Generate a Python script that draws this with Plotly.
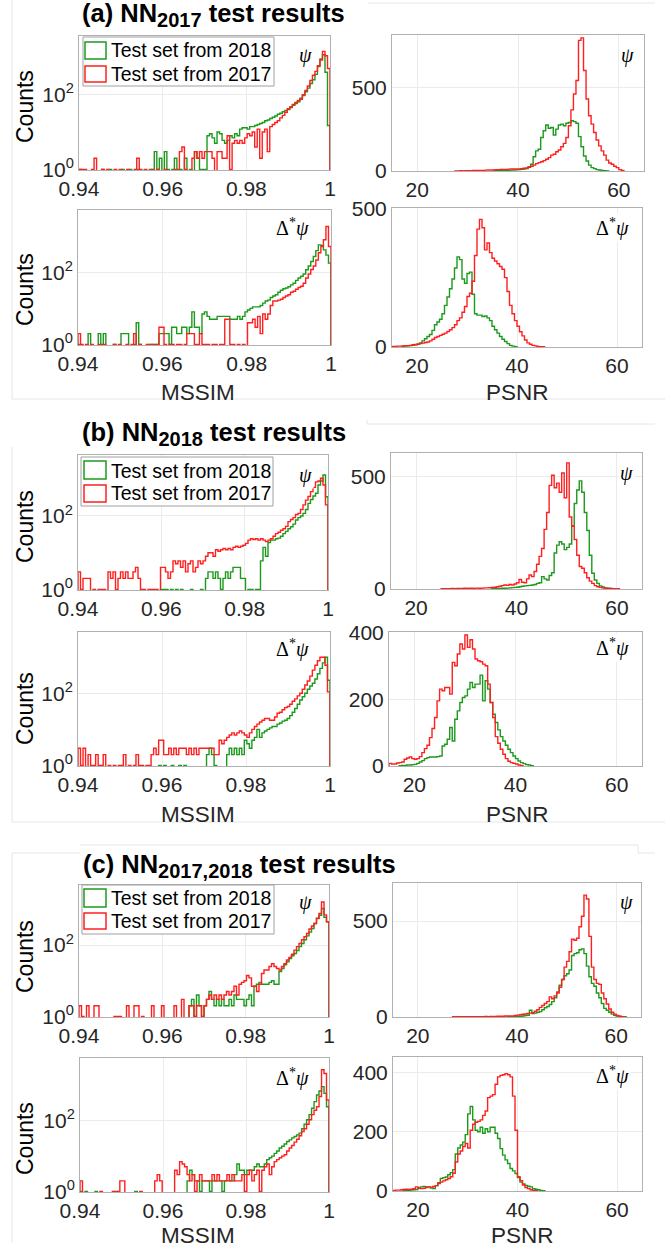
import numpy as np
import plotly.graph_objects as go

W, H = 665, 1247

MSSIM_START = 0.94
MSSIM_BIN = 0.0006
PSNR_BIN = 0.5

GREEN = "#1c9a1c"
RED = "#ff1f1f"
FONT = "Liberation Sans, Arial, Helvetica, sans-serif"

# ---------------- (a) NN2017 ----------------
a_psi_mssim_2018 = [1,0,0,0,0,0,0,0,0,1, 0,0,1,0,0,0,0,1,0,0, 1,0,0,1,0,0,0,0,1,0,
                    3,1,2,0,3,1,0,1,2,1, 1,0,2,0,1,0,3,2,1,1, 1,8,9,7,5,10,9,6,5,6,
                    8,7,9,8,12,13,13,12,14,14, 15,16,17,18,20,21,23,25,27,30,
                    32,35,38,40,45,52,58,65,80,95, 120,150,200,250,350,570,900,1170,400,15]
a_psi_mssim_2017 = [1,1,1,0,0,1,2,0,0,1, 0,1,0,0,1,0,1,0,0,1, 0,0,1,2,1,0,1,0,0,1,
                    0,1,0,0,1,0,0,0,1,0, 3,4,1,0,0,2,3,2,3,2, 3,3,3,2,0,3,3,2,2,8,
                    1,5,6,5,6,5,7,9,8,10, 4,12,2,10,12,3,14,16,18,20,
                    24,28,34,42,48,55,62,70,75,100, 130,170,240,330,420,600,850,1440,1100,500]
a_dpsi_mssim_2018 = [1,0,0,0,2,0,0,0,2,1, 2,0,0,0,1,0,0,2,2,2, 0,0,1,4,1,0,0,0,1,1,
                     1,1,2,2,2,2,1,3,3,2, 2,3,3,2,3,8,3,3,2,7, 8,6,5,5,5,6,6,6,6,6,
                     5,5,5,6,5,6,8,9,10,11, 11,11,12,14,16,17,20,22,24,28,
                     32,35,37,40,45,50,60,70,78,90, 118,150,200,276,400,580,560,420,300,180]
a_dpsi_mssim_2017 = [2,1,0,1,0,1,0,0,1,0, 1,0,0,0,1,0,1,0,0,1, 0,1,2,0,1,0,0,1,0,1,
                     0,1,3,3,1,0,1,1,0,1, 1,0,1,2,2,2,1,1,2,1, 1,1,0,1,1,0,1,1,5,5,
                     1,1,0,1,0,1,0,4,4,5, 3,6,2,7,5,7,12,16,16,17,
                     18,20,22,24,28,30,34,38,41,50, 70,90,120,150,220,350,520,800,1870,520]
a_psi_psnr_2018_start = 35.0
a_psi_psnr_2018 = [1,2,2,3,3,3,4,5,6,7, 8,10,12,15,25,40,85,120,130,200,
                   240,275,255,260,215,250,275,280,270,285, 290,300,295,285,205,145,90,60,35,20,
                   14,8,6,4,2,1]
a_psi_psnr_2017_start = 27.5
a_psi_psnr_2017 = [1,1,2,1,2,2,2,3,3,4, 4,4,5,6,6,7,8,8,9,10, 10,11,12,12,12,
                   12,14,16,18,22,28,35,44,50,55, 62,70,80,95,100,115,125,145,165,200,
                   270,365,460,540,780,795,600,430,330,280, 230,185,150,120,95,65,48,40,28,20,
                   8,3]
a_dpsi_psnr_2018_start = 17.0
a_dpsi_psnr_2018 = [2,3,4,5,6,8,10,15,22,30, 38,45,60,80,90,100,120,150,180,210,
                    245,285,325,315,245,230,265,270,190,120, 115,115,110,112,105,95,75,62,50,38,
                    28,20,12,6,3,1]
a_dpsi_psnr_2017_start = 15.0
a_dpsi_psnr_2017 = [2,2,3,3,4,5,5,6,8,9, 10,12,14,16,18,22,28,34,38,42,
                    46,50,56,62,70,80,95,105,125,146, 182,194,237,330,425,460,430,350,375,340,
                    320,310,300,290,280,250,200,150,120,95, 75,55,40,25,15,10,6,4,2,1, 1]

# ---------------- (b) NN2018 ----------------
b_psi_mssim_2018 = [0,0,0,0,0,0,0,0,0,0, 0,0,0,0,0,0,0,0,0,0, 0,0,0,0,0,0,0,0,0,0,
                    0,0,0,1,1,1,0,1,0,1, 0,1,0,0,0,1,0,0,0,1, 0,2,3,3,2,3,2,1,2,3,
                    2,3,4,4,4,2,2,0,1,1, 0,1,1,6,14,8,19,22,22,24,
                    25,28,33,38,45,51,60,78,90,100, 118,150,220,280,350,415,700,900,1300,335]
b_psi_mssim_2017 = [3,1,2,2,2,0,1,0,1,1, 1,0,3,2,3,1,2,3,2,3, 2,2,3,4,2,1,1,0,1,1,
                    1,1,0,4,4,3,2,3,6,5, 6,4,6,3,5,6,3,4,6,5, 6,8,10,10,8,12,11,12,13,12,
                    13,12,14,15,14,15,16,18,22,24, 23,24,22,24,22,20,22,24,28,33,
                    36,41,45,52,70,80,90,110,118,150, 200,270,340,460,600,850,900,1060,700,200]
b_dpsi_mssim_2018 = [0,0,0,0,0,0,0,0,0,0, 0,0,0,0,0,0,0,0,0,0, 0,0,0,0,0,0,0,0,0,0,
                     0,0,1,0,1,0,0,1,0,0, 1,0,1,0,0,0,0,0,0,0, 0,2,3,2,1,0,0,0,0,2,
                     3,2,3,2,3,2,5,4,3,5, 6,10,6,8,9,10,11,12,12,14,
                     15,17,18,20,24,30,38,50,65,80, 100,130,160,190,250,350,490,700,1000,230]
b_dpsi_mssim_2017 = [3,1,3,0,2,1,1,2,1,1, 2,0,1,0,1,0,1,1,2,0, 1,0,1,2,1,1,0,1,1,2,
                     3,2,5,5,2,2,3,2,3,2, 3,3,3,2,3,2,3,2,3,3, 3,3,3,3,2,2,5,4,5,6,
                     7,8,7,8,9,8,7,6,8,10, 12,14,16,18,20,20,18,18,22,28,
                     30,35,40,43,50,60,70,85,100,130, 170,220,300,440,600,800,1000,1000,600,110]
b_psi_psnr_2018_start = 35.0
b_psi_psnr_2018 = [1,1,2,2,3,3,4,5,6,7, 8,10,12,14,15,16,18,20,25,28,
                   55,45,40,60,72,160,195,210,200,175, 185,200,280,380,440,480,430,340,260,150,
                   70,40,25,14,9,5,3,2,1,1]
b_psi_psnr_2017_start = 25.0
b_psi_psnr_2017 = [1,1,1,1,2,1,2,2,2,3, 2,3,3,2,4,3,4,5,5,6, 7,8,10,12,15,18,16,20,18,22,
                   28,42,30,28,45,62,55,78,110,145, 180,265,340,460,505,450,470,430,515,405,
                   560,320,280,220,150,100,92,72,50,35, 25,15,10,7,5,3,2,2,1,1, 1]
b_dpsi_psnr_2018_start = 17.0
b_dpsi_psnr_2018 = [1,2,2,3,3,4,5,8,12,16, 22,25,27,27,27,28,30,60,65,80,
                    115,75,140,165,190,205,210,230,250,235, 245,245,272,195,255,230,190,155,130,108,
                    88,75,62,50,40,30,22,15,10,7, 4,3,1]
b_dpsi_psnr_2017_start = 15.0
b_dpsi_psnr_2017 = [8,6,6,9,10,12,20,24,27,22, 20,22,28,40,52,62,85,112,145,195,
                    230,225,235,235,215,310,300,335,365,350, 392,355,378,350,320,315,312,305,300,245,
                    190,145,88,68,50,35,22,14,10,8, 6,3,1]

# ---------------- (c) NN2017,2018 ----------------
c_psi_mssim_2018 = [0,0,0,0,0,0,0,0,0,0, 0,0,0,0,0,0,0,0,0,0, 0,0,0,0,0,0,0,0,0,0,
                    0,0,0,0,0,0,0,0,0,0, 0,0,0,0,2,3,1,4,2,1, 2,3,5,3,2,3,2,3,2,2,
                    3,2,4,3,3,3,2,3,4,2, 7,8,9,8,8,8,9,10,8,8,
                    18,22,28,34,42,50,58,70,90,110, 140,180,230,290,400,550,680,1050,600,450]
c_psi_mssim_2017 = [2,1,0,2,0,0,2,2,0,0, 0,0,0,0,1,1,1,0,0,2, 0,0,2,2,0,1,0,0,0,2,
                    0,0,0,2,0,0,0,0,2,0, 0,3,0,0,2,2,1,2,2,1, 2,3,4,3,4,3,4,3,4,5,
                    4,5,7,4,8,9,10,14,12,7, 7,5,8,16,20,20,25,30,25,22,
                    20,25,30,38,45,55,72,90,110,140, 170,210,280,340,400,560,760,1600,700,450]
c_dpsi_mssim_2018 = [1,0,1,0,0,0,1,0,0,0, 0,0,0,0,1,0,0,0,0,0, 0,0,1,0,0,0,0,0,0,0,
                     0,0,0,0,0,0,0,0,0,0, 0,0,0,2,4,3,2,2,1,2, 2,2,1,2,2,2,2,1,2,2,
                     2,2,3,6,4,4,3,4,4,4, 5,6,5,5,6,8,9,10,12,14,
                     17,19,22,26,29,33,36,40,45,60, 80,107,150,228,350,540,700,930,600,250]
c_dpsi_mssim_2017 = [2,0,0,0,0,0,0,0,1,0, 0,0,0,1,0,1,2,2,0,0, 0,0,0,0,1,0,0,0,0,0,
                     2,3,2,0,0,0,0,0,4,3, 7,6,5,3,2,3,1,2,3,2, 2,2,2,3,2,3,2,2,2,3,
                     2,3,2,2,2,3,1,3,4,2, 3,4,1,4,5,6,3,5,7,8,
                     9,10,11,14,17,20,25,30,38,50, 60,80,107,150,200,250,490,2800,2200,390]
c_psi_psnr_2018_start = 38.0
c_psi_psnr_2018 = [1,1,2,2,3,4,5,7,9,35, 18,20,24,28,38,48,55,65,80,100,
                   130,165,195,215,225,245,320,330,335,350, 355,330,265,210,175,160,125,100,70,45,
                   35,25,15,9,5,3,2,1]
c_psi_psnr_2017_start = 27.0
c_psi_psnr_2017 = [1,1,1,1,1,2,1,2,1,2, 2,2,2,3,2,3,3,3,4,4, 4,5,5,6,6,8,10,12,14,16,
                   18,20,22,30,38,50,60,70,80,105, 95,110,125,155,195,260,290,340,405,400,
                   410,470,525,635,615,420,260,195,175,170, 125,95,68,42,25,15,8,4,2]
c_dpsi_psnr_2018_start = 17.0
c_dpsi_psnr_2018 = [1,2,2,3,4,5,10,14,15,14, 14,10,8,18,25,42,45,47,55,62,
                    72,125,145,155,165,190,260,285,240,205, 200,215,195,210,200,215,215,195,177,143,
                    121,105,93,76,68,59,45,30,24,19, 16,14,8,6,4,2,1]
c_dpsi_psnr_2017_start = 15.0
c_dpsi_psnr_2017 = [2,3,3,4,5,6,5,6,8,14, 10,8,9,12,14,13,15,18,28,30,
                    34,38,42,48,60,98,125,135,150,160, 145,205,225,232,235,240,255,270,315,320,
                    325,360,385,390,392,396,392,385,320,205, 48,35,20,12,8,4,2,1]

MSSIM_TICKS = [0.94, 0.96, 0.98, 1.0]
MSSIM_TICKTEXT = ["0.94", "0.96", "0.98", "1"]
PSNR_TICKS = [20, 40, 60]
LOG_TICKS = [1, 100]
LOG_TICKTEXT = ["10<sup>0</sup>", "10<sup>2</sup>"]

# subplot boxes in pixels: (left, right, top, bottom)
panels = [
    # (a)
    dict(box=(79, 330, 36, 170), kind="mssim", g=a_psi_mssim_2018, r=a_psi_mssim_2017, top=3.57),
    dict(box=(392, 644, 35, 171), kind="psnr", g=(a_psi_psnr_2018_start, a_psi_psnr_2018),
         r=(a_psi_psnr_2017_start, a_psi_psnr_2017), top=812, ticks=[0, 500]),
    dict(box=(78, 331, 210, 345), kind="mssim", g=a_dpsi_mssim_2018, r=a_dpsi_mssim_2017, top=3.73),
    dict(box=(392, 642, 208, 347), kind="psnr", g=(a_dpsi_psnr_2018_start, a_dpsi_psnr_2018),
         r=(a_dpsi_psnr_2017_start, a_dpsi_psnr_2017), top=501, ticks=[0, 500]),
    # (b)
    dict(box=(78, 328, 455, 590), kind="mssim", g=b_psi_mssim_2018, r=b_psi_mssim_2017, top=3.66),
    dict(box=(391, 642, 453, 589), kind="psnr", g=(b_psi_psnr_2018_start, b_psi_psnr_2018),
         r=(b_psi_psnr_2017_start, b_psi_psnr_2017), top=604, ticks=[0, 500]),
    dict(box=(78, 330, 632, 766), kind="mssim", g=b_dpsi_mssim_2018, r=b_dpsi_mssim_2017, top=3.70),
    dict(box=(389, 642, 632, 766), kind="psnr", g=(b_dpsi_psnr_2018_start, b_dpsi_psnr_2018),
         r=(b_dpsi_psnr_2017_start, b_dpsi_psnr_2017), top=401, ticks=[0, 200, 400]),
    # (c)
    dict(box=(79, 329, 885, 1017), kind="mssim", g=c_psi_mssim_2018, r=c_psi_mssim_2017, top=3.68),
    dict(box=(393, 641, 883, 1017), kind="psnr", g=(c_psi_psnr_2018_start, c_psi_psnr_2018),
         r=(c_psi_psnr_2017_start, c_psi_psnr_2017), top=698, ticks=[0, 500]),
    dict(box=(80, 329, 1058, 1192), kind="mssim", g=c_dpsi_mssim_2018, r=c_dpsi_mssim_2017, top=3.78),
    dict(box=(393, 642, 1057, 1191), kind="psnr", g=(c_dpsi_psnr_2018_start, c_dpsi_psnr_2018),
         r=(c_dpsi_psnr_2017_start, c_dpsi_psnr_2017), top=452, ticks=[0, 200, 400]),
]


def px_x(p):
    return p / W


def px_y(p):
    return 1 - p / H


def step_trace(start, width, counts, color, k, log):
    counts = np.asarray(counts, dtype=float)
    edges = start + width * np.arange(len(counts) + 1)
    floor = 0.1 if log else 0.0
    vals = np.where(counts > 0, counts, floor) if log else counts
    xs = np.concatenate([[edges[0]], edges[:-1], [edges[-1]]])
    ys = np.concatenate([[floor], vals, [floor]])
    return go.Scatter(x=xs, y=ys, mode="lines", line=dict(color=color, width=1.4, shape="hv"),
                      xaxis=f"x{k}", yaxis=f"y{k}", showlegend=False, hoverinfo="skip")


fig = go.Figure()
layout = dict(width=W, height=H, autosize=False, margin=dict(l=0, r=0, t=0, b=0),
              paper_bgcolor="white", plot_bgcolor="white", showlegend=False,
              font=dict(family=FONT, color="#262626"))

axis_common = dict(showline=True, mirror=True, linecolor="#b0b0b0", linewidth=1,
                   showgrid=True, gridcolor="#ebebeb", gridwidth=1, zeroline=False,
                   ticks="", automargin=False, layer="below traces",
                   tickfont=dict(family=FONT, size=21, color="#262626"))

for i, p in enumerate(panels):
    k = i + 1
    l, r, t, b = p["box"]
    xa = dict(axis_common, domain=[px_x(l), px_x(r)], anchor=f"y{k}")
    ya = dict(axis_common, domain=[px_y(b), px_y(t)], anchor=f"x{k}")
    if p["kind"] == "mssim":
        xa.update(range=[0.94, 1.0], tickvals=MSSIM_TICKS, ticktext=MSSIM_TICKTEXT)
        ya.update(type="log", range=[-0.015, p["top"]], tickvals=LOG_TICKS, ticktext=LOG_TICKTEXT)
        fig.add_trace(step_trace(MSSIM_START, MSSIM_BIN, p["g"], GREEN, k, True))
        fig.add_trace(step_trace(MSSIM_START, MSSIM_BIN, p["r"], RED, k, True))
    else:
        xa.update(range=[15, 65], tickvals=PSNR_TICKS)
        ya.update(range=[0, p["top"]], tickvals=p["ticks"])
        fig.add_trace(step_trace(p["g"][0], PSNR_BIN, p["g"][1], GREEN, k, False))
        fig.add_trace(step_trace(p["r"][0], PSNR_BIN, p["r"][1], RED, k, False))
    layout["xaxis" if k == 1 else f"xaxis{k}"] = xa
    layout["yaxis" if k == 1 else f"yaxis{k}"] = ya

annotations = []
shapes = []


def ann(x, y, text, size, xanchor="center", yanchor="middle", angle=0, bg=None, family=FONT, color="#262626"):
    d = dict(x=px_x(x), y=px_y(y), xref="paper", yref="paper", text=text, showarrow=False,
             xanchor=xanchor, yanchor=yanchor, textangle=angle,
             font=dict(family=family, size=size, color=color))
    if bg:
        d["bgcolor"] = bg
    annotations.append(d)


# panel titles
titles = [
    (80, 15, "<b>(a) NN<sub><span style='font-size:20px'>2017</span></sub> test results</b>"),
    (80, 434, "<b>(b) NN<sub><span style='font-size:20px'>2018</span></sub> test results</b>"),
    (81, 866, "<b>(c) NN<sub><span style='font-size:20px'>2017,2018</span></sub> test results</b>"),
]
for x, y, txt in titles:
    ann(x, y, txt, 25.5, xanchor="left", color="black")

# axis labels
for y in (107, 290, 527, 709, 957, 1139):
    ann(25, y, "Counts", 23, angle=-90, color="black")
for y in (392, 814, 1235):
    ann(198, y, "MSSIM", 22.5)
for x, y in ((517, 392), (517, 814), (522, 1235)):
    ann(x, y, "PSNR", 22.5)

# corner labels psi / Delta* psi
PSI = "<i>ψ</i>"
DPSI = "Δ<sup>*</sup><i>ψ</i>"
corner = [(305, 55, PSI), (627, 55, PSI), (292, 228, DPSI), (612, 228, DPSI),
          (305, 475, PSI), (626, 473, PSI), (292, 648, DPSI), (612, 647, DPSI),
          (305, 902, PSI), (626, 902, PSI), (292, 1077, DPSI), (612, 1075, DPSI)]
for x, y, txt in corner:
    ann(x, y, txt, 20, bg="white", family="Liberation Serif, DejaVu Serif, serif", color="black")

# legends (drawn as boxes + text)
legends = [
    dict(box=(83, 37, 274, 86), g=(85, 42, 106, 59), r=(85, 66, 106, 82), ty=(50, 74)),
    dict(box=(81, 457, 273, 506), g=(84, 461, 106, 479), r=(84, 485, 106, 502), ty=(471, 493)),
    dict(box=(82, 885, 274, 934), g=(84, 889, 106, 907), r=(84, 913, 106, 929), ty=(898, 921)),
]
LEGEND_LABELS = ["Test set from 2018", "Test set from 2017"]
for lg in legends:
    x0, y0, x1, y1 = lg["box"]
    shapes.append(dict(type="rect", xref="paper", yref="paper", x0=px_x(x0), x1=px_x(x1),
                       y0=px_y(y1), y1=px_y(y0), line=dict(color="#a0a0a0", width=1),
                       fillcolor="white", layer="above"))
    for key, col in (("g", GREEN), ("r", RED)):
        a0, b0, a1, b1 = lg[key]
        shapes.append(dict(type="rect", xref="paper", yref="paper", x0=px_x(a0), x1=px_x(a1),
                           y0=px_y(b1), y1=px_y(b0), line=dict(color=col, width=1.5),
                           fillcolor="rgba(0,0,0,0)", layer="above"))
    ann(109, lg["ty"][0], LEGEND_LABELS[0], 19.5, xanchor="left", color="black")
    ann(109, lg["ty"][1], LEGEND_LABELS[1], 19.5, xanchor="left", color="black")

# faint frame lines of the composed figure
FRAME = "#e6e6e6"
frame_lines = [
    (12, 0, 12, 399), (12, 399, 665, 399), (368, 3, 655, 3),
    (12, 447, 12, 822), (12, 822, 665, 822), (367, 424, 655, 424), (367, 420, 367, 424),
    (12, 853, 12, 1243), (12, 853, 80, 853), (80, 845, 638, 845), (638, 845, 638, 853), (638, 853, 655, 853),
]
for x0, y0, x1, y1 in frame_lines:
    shapes.append(dict(type="line", xref="paper", yref="paper", x0=px_x(x0), x1=px_x(x1),
                       y0=px_y(y0), y1=px_y(y1), line=dict(color=FRAME, width=1), layer="below"))

layout["annotations"] = annotations
layout["shapes"] = shapes
fig.update_layout(**layout)
fig.write_html("out.html")
